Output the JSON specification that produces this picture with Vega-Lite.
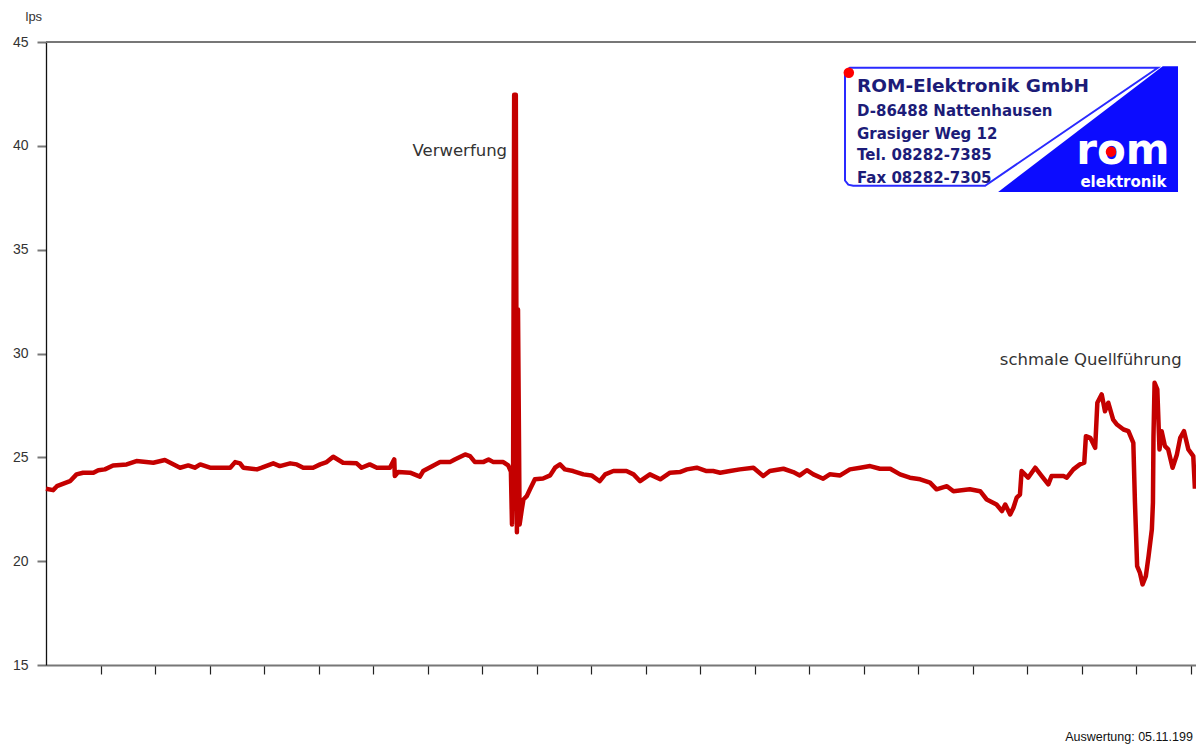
{
  "$schema": "https://vega.github.io/schema/vega-lite/v6.json",
  "width": 1150,
  "height": 623,
  "autosize": {"type": "none"},
  "padding": {"left": 46, "top": 42, "right": 0, "bottom": 79},
  "background": "white",
  "config": {"view": {"stroke": null}, "font": "Liberation Sans"},
  "datasets": {
    "series": [
      {"x":0,"y":23.49},{"x":13,"y":23.42},{"x":20,"y":23.61},{"x":44,"y":23.85},{"x":56,"y":24.18},{"x":68,"y":24.26},{"x":87,"y":24.26},{"x":96,"y":24.38},{"x":108,"y":24.42},{"x":123,"y":24.61},{"x":148,"y":24.66},{"x":166,"y":24.82},{"x":197,"y":24.74},{"x":218,"y":24.87},{"x":246,"y":24.50},{"x":261,"y":24.61},{"x":273,"y":24.50},{"x":283,"y":24.66},{"x":301,"y":24.50},{"x":338,"y":24.50},{"x":347,"y":24.77},{"x":356,"y":24.71},{"x":362,"y":24.50},{"x":387,"y":24.42},{"x":396,"y":24.50},{"x":417,"y":24.71},{"x":429,"y":24.58},{"x":448,"y":24.71},{"x":460,"y":24.66},{"x":472,"y":24.50},{"x":490,"y":24.50},{"x":503,"y":24.66},{"x":515,"y":24.77},{"x":527,"y":25.03},{"x":545,"y":24.74},{"x":570,"y":24.71},{"x":579,"y":24.50},{"x":594,"y":24.66},{"x":607,"y":24.50},{"x":631,"y":24.50},{"x":639,"y":24.90},{"x":640,"y":24.10},{"x":646,"y":24.29},{"x":668,"y":24.26},{"x":686,"y":24.07},{"x":692,"y":24.34},{"x":711,"y":24.61},{"x":723,"y":24.77},{"x":741,"y":24.77},{"x":750,"y":24.90},{"x":769,"y":25.14},{"x":778,"y":25.06},{"x":787,"y":24.77},{"x":802,"y":24.77},{"x":812,"y":24.90},{"x":821,"y":24.77},{"x":839,"y":24.77},{"x":848,"y":24.61},{"x":853,"y":24.32},{"x":855,"y":21.77},{"x":857,"y":23.94},{"x":859,"y":42.46},{"x":862,"y":42.46},{"x":864,"y":21.39},{"x":866,"y":32.12},{"x":869,"y":21.77},{"x":873,"y":22.49},{"x":876,"y":22.97},{"x":882,"y":23.13},{"x":888,"y":23.46},{"x":897,"y":23.94},{"x":912,"y":23.98},{"x":925,"y":24.13},{"x":934,"y":24.50},{"x":943,"y":24.66},{"x":952,"y":24.42},{"x":967,"y":24.34},{"x":986,"y":24.18},{"x":1001,"y":24.13},{"x":1016,"y":23.85},{"x":1026,"y":24.18},{"x":1041,"y":24.34},{"x":1065,"y":24.34},{"x":1078,"y":24.18},{"x":1090,"y":23.85},{"x":1108,"y":24.18},{"x":1127,"y":23.94},{"x":1145,"y":24.26},{"x":1163,"y":24.29},{"x":1176,"y":24.42},{"x":1194,"y":24.50},{"x":1212,"y":24.34},{"x":1224,"y":24.34},{"x":1237,"y":24.26},{"x":1255,"y":24.34},{"x":1273,"y":24.42},{"x":1298,"y":24.50},{"x":1316,"y":24.10},{"x":1328,"y":24.34},{"x":1353,"y":24.45},{"x":1371,"y":24.29},{"x":1383,"y":24.13},{"x":1396,"y":24.38},{"x":1408,"y":24.18},{"x":1426,"y":23.97},{"x":1438,"y":24.18},{"x":1457,"y":24.13},{"x":1475,"y":24.42},{"x":1494,"y":24.50},{"x":1512,"y":24.58},{"x":1530,"y":24.45},{"x":1549,"y":24.45},{"x":1567,"y":24.18},{"x":1585,"y":24.02},{"x":1604,"y":23.94},{"x":1622,"y":23.78},{"x":1634,"y":23.46},{"x":1653,"y":23.61},{"x":1665,"y":23.37},{"x":1695,"y":23.46},{"x":1714,"y":23.37},{"x":1726,"y":22.97},{"x":1744,"y":22.73},{"x":1754,"y":22.41},{"x":1760,"y":22.73},{"x":1769,"y":22.25},{"x":1775,"y":22.57},{"x":1781,"y":23.06},{"x":1787,"y":23.21},{"x":1790,"y":24.34},{"x":1802,"y":24.02},{"x":1815,"y":24.50},{"x":1827,"y":24.10},{"x":1839,"y":23.70},{"x":1845,"y":24.10},{"x":1867,"y":24.10},{"x":1873,"y":24.02},{"x":1885,"y":24.42},{"x":1897,"y":24.66},{"x":1905,"y":24.74},{"x":1908,"y":26.02},{"x":1916,"y":25.94},{"x":1925,"y":25.46},{"x":1929,"y":27.63},{"x":1937,"y":28.03},{"x":1943,"y":27.22},{"x":1949,"y":27.63},{"x":1958,"y":26.82},{"x":1965,"y":26.58},{"x":1977,"y":26.34},{"x":1986,"y":26.26},{"x":1995,"y":25.70},{"x":1998,"y":22.82},{"x":2002,"y":19.76},{"x":2007,"y":19.45},{"x":2012,"y":18.88},{"x":2018,"y":19.28},{"x":2023,"y":20.25},{"x":2029,"y":21.53},{"x":2031,"y":22.82},{"x":2032,"y":26.02},{"x":2034,"y":28.59},{"x":2039,"y":28.27},{"x":2043,"y":25.38},{"x":2047,"y":26.26},{"x":2053,"y":25.54},{"x":2059,"y":25.38},{"x":2067,"y":24.50},{"x":2075,"y":25.14},{"x":2081,"y":25.94},{"x":2088,"y":26.26},{"x":2096,"y":25.38},{"x":2105,"y":25.06},{"x":2108,"y":23.49}
    ],
    "topline": [{"x": 0, "y": 45}, {"x": 2110, "y": 45}],
    "tri": [{"x": 1747, "y": 37.78, "y2": 37.78}, {"x": 2049, "y": 43.83, "y2": 37.78}, {"x": 2077, "y": 43.83, "y2": 37.78}],
    "outline": [
      {"i": 1, "x": 1466, "y": 43.57}, {"i": 2, "x": 1466, "y": 38.33}, {"i": 3, "x": 1472, "y": 38.13}, {"i": 4, "x": 1481, "y": 38.08},
      {"i": 5, "x": 1723, "y": 38.08}, {"i": 6, "x": 2040, "y": 43.76}, {"i": 7, "x": 1475, "y": 43.76}, {"i": 8, "x": 1466, "y": 43.57}
    ],
    "logoTitle": [{"x": 1488, "y": 42.86, "label": "ROM-Elektronik GmbH"}],
    "logoLines": [
      {"x": 1488, "y": 41.66, "label": "D-86488 Nattenhausen"},
      {"x": 1488, "y": 40.57, "label": "Grasiger Weg 12"},
      {"x": 1488, "y": 39.58, "label": "Tel. 08282-7385"},
      {"x": 1488, "y": 38.46, "label": "Fax 08282-7305"}
    ],
    "rom": [{"x": 1976, "y": 39.14, "label": "rom"}],
    "elek": [{"x": 1977, "y": 38.28, "label": "elektronik"}],
    "dots": [{"x": 1473, "y": 43.52}, {"x": 1954, "y": 39.72}],
    "noteRight": [{"x": 846, "y": 39.77, "label": "Verwerfung"}],
    "noteLeft": [{"x": 1750, "y": 29.71, "label": "schmale Quellführung"}],
    "footer": [{"x": 1870, "y": 11.52, "label": "Auswertung: 05.11.199"}]
  },
  "encoding": {
    "x": {
      "field": "x", "type": "quantitative",
      "scale": {"domain": [0, 2110], "nice": false, "zero": false},
      "axis": {
        "title": null, "labels": false, "grid": false,
        "values": [100, 200, 300, 400, 500, 600, 700, 800, 900, 1000, 1100, 1200, 1300, 1400, 1500, 1600, 1700, 1800, 1900, 2000, 2100],
        "domainColor": "#777777", "domainWidth": 2,
        "tickColor": "#222222", "tickWidth": 1.2, "tickSize": 9
      }
    },
    "y": {
      "field": "y", "type": "quantitative",
      "scale": {"domain": [15, 45], "nice": false, "zero": false},
      "axis": {
        "title": "lps", "titleAngle": 0, "titleAlign": "left", "titleBaseline": "middle",
        "titleX": -21, "titleY": -26, "titleFont": "Liberation Sans", "titleFontSize": 13,
        "titleFontWeight": "normal", "titleColor": "#333333",
        "values": [15, 20, 25, 30, 35, 40, 45], "grid": false,
        "labelFont": "Liberation Sans", "labelFontSize": 14, "labelColor": "#333333", "labelPadding": 9,
        "domainColor": "#111111", "domainWidth": 1.3,
        "tickColor": "#777777", "tickWidth": 2, "tickSize": 9
      }
    }
  },
  "layer": [
    {"data": {"name": "topline"}, "mark": {"type": "line", "color": "#777777", "strokeWidth": 2}},
    {"data": {"name": "tri"}, "mark": {"type": "area", "color": "#0c0cff", "opacity": 1}, "encoding": {"y2": {"field": "y2"}}},
    {"data": {"name": "outline"}, "mark": {"type": "line", "color": "#2a2aff", "strokeWidth": 2}, "encoding": {"order": {"field": "i", "type": "quantitative"}}},
    {"data": {"name": "logoTitle"}, "mark": {"type": "text", "align": "left", "baseline": "middle", "font": "DejaVu Sans", "fontWeight": "bold", "fontSize": 18.5, "color": "#1c1c78"}, "encoding": {"text": {"field": "label"}}},
    {"data": {"name": "logoLines"}, "mark": {"type": "text", "align": "left", "baseline": "middle", "font": "DejaVu Sans", "fontWeight": "bold", "fontSize": 15, "color": "#1c1c78"}, "encoding": {"text": {"field": "label"}}},
    {"data": {"name": "rom"}, "mark": {"type": "text", "align": "center", "baseline": "alphabetic", "font": "DejaVu Sans", "fontWeight": "bold", "fontSize": 42, "color": "#ffffff"}, "encoding": {"text": {"field": "label"}}},
    {"data": {"name": "elek"}, "mark": {"type": "text", "align": "center", "baseline": "middle", "font": "DejaVu Sans", "fontWeight": "bold", "fontSize": 15, "color": "#ffffff"}, "encoding": {"text": {"field": "label"}}},
    {"data": {"name": "dots"}, "mark": {"type": "point", "shape": "circle", "filled": true, "size": 110, "color": "#ff0000", "opacity": 1}},
    {"data": {"name": "noteRight"}, "mark": {"type": "text", "align": "right", "baseline": "middle", "font": "DejaVu Sans", "fontSize": 16.5, "color": "#333333"}, "encoding": {"text": {"field": "label"}}},
    {"data": {"name": "noteLeft"}, "mark": {"type": "text", "align": "left", "baseline": "middle", "font": "DejaVu Sans", "fontSize": 16.5, "color": "#333333"}, "encoding": {"text": {"field": "label"}}},
    {"data": {"name": "footer"}, "mark": {"type": "text", "align": "left", "baseline": "middle", "font": "Liberation Sans", "fontSize": 12.5, "color": "#111111"}, "encoding": {"text": {"field": "label"}}},
    {"data": {"name": "series"}, "mark": {"type": "line", "color": "#c40000", "strokeWidth": 4.5, "strokeJoin": "round"}}
  ]
}
